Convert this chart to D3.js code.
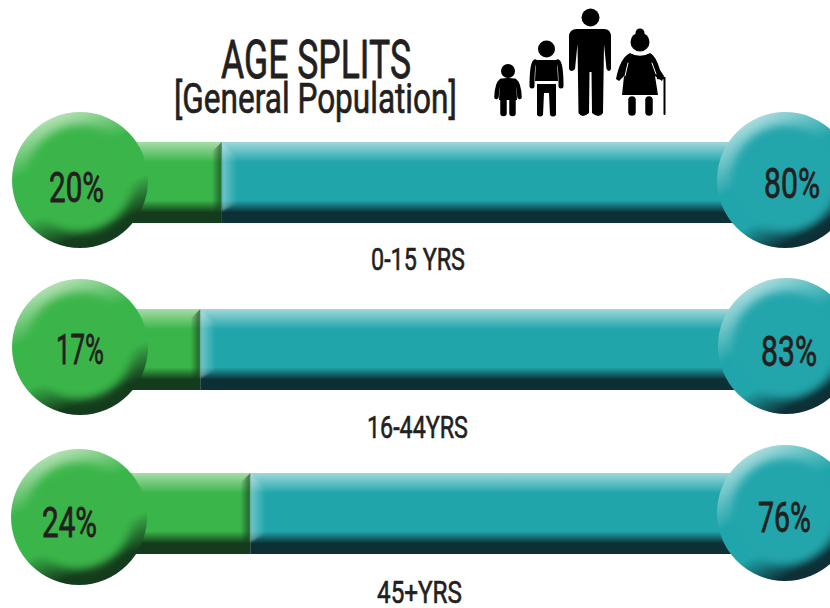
<!DOCTYPE html>
<html><head><meta charset="utf-8">
<style>html,body{margin:0;padding:0;background:#fff;overflow:hidden}svg{display:block}
text{font-family:"Roboto","Liberation Sans",sans-serif;fill:#231f20;stroke:#231f20;stroke-linejoin:round;font-weight:400}</style>
<script src="https://cdn.jsdelivr.net/npm/d3@7/dist/d3.min.js"></script>
</head><body><svg id="c" width="830" height="608"></svg>
<script>
const categories = ["0-15 YRS", "16-44YRS", "45+YRS"];
const greenValues = [20, 17, 24];
const tealValues = [80, 83, 76];
const titleLine1 = "AGE SPLITS";
const titleLine2 = "[General Population]";

const W = 830, H = 608;
const svg = d3.select("#c");
const defs = svg.append("defs");
const x = d3.scaleLinear().domain([0, 100]).range([79, 793]);
const rowTop = d3.scaleOrdinal().domain(categories).range([142, 309, 473]);
const barH = 81, R = 68;
const leftC = d3.scaleOrdinal().domain(categories).range([[80,180],[80,347],[79,517]]);
const rightC = d3.scaleOrdinal().domain(categories).range([[785,180],[786,346],[785,513]]);
const pal = {
  green:{light:"#bfe5bd", mid:"#a6dca8", base:"#3ab54a", dark:"#143c1c"},
  teal:{light:"#b4e0e1", mid:"#a0d8da", base:"#20a5ab", dark:"#0c3036"}
};
function lin(id, attrs, stops){
  const g = defs.append("linearGradient").attr("id", id);
  Object.entries(attrs).forEach(([k,v]) => g.attr(k,v));
  stops.forEach(s => g.append("stop").attr("offset", s[0]).attr("stop-color", s[1]).attr("stop-opacity", s[2] === undefined ? 1 : s[2]));
}
for (const k of ["green","teal"]) {
  const p = pal[k];
  lin("bar-"+k, {x1:0,y1:0,x2:0,y2:1}, [[0,p.mid],[0.25,p.base],[0.72,p.base],[0.87,p.dark],[1,p.dark]]);
}
lin("disc-green", {x1:0.24,y1:0.03,x2:0.62,y2:0.98}, [[0,pal.green.light],[0.34,pal.green.base],[0.66,pal.green.base],[0.9,pal.green.dark],[1,pal.green.dark]]);
lin("disc-teal", {x1:0.16,y1:0.08,x2:0.66,y2:0.98}, [[0,pal.teal.light],[0.4,pal.teal.base],[0.68,pal.teal.base],[0.92,pal.teal.dark],[1,pal.teal.dark]]);
lin("edge-green", {x1:0,y1:0,x2:1,y2:0}, [[0,"#143c1c",0],[1,"#143c1c",0.72]]);
lin("edge-teal", {x1:0,y1:0,x2:1,y2:0}, [[0,"#c4e8e8",0.5],[1,"#c4e8e8",0]]);
const blur = defs.append("filter").attr("id","soft").attr("x","-20%").attr("y","-20%").attr("width","140%").attr("height","140%");
blur.append("feGaussianBlur").attr("stdDeviation",4.5);
const blurS = defs.append("filter").attr("id","softS").attr("x","-40%").attr("y","-20%").attr("width","180%").attr("height","140%");
blurS.append("feGaussianBlur").attr("stdDeviation",1.2);

// Text is measured, then squeezed horizontally to the narrow width the reference lettering has.
function fitText(str, x0, x1, baseline, size, sw){
  const t = svg.append("text").attr("font-size",size).attr("stroke-width",sw).text(str);
  const w = t.node().getComputedTextLength();
  t.attr("transform",`translate(${x0},${baseline}) scale(${(x1-x0)/w},1)`);
}
function disc(cx, cy, k){
  const p = pal[k];
  const g = svg.append("g").attr("class","disc");
  g.append("circle").attr("cx",cx).attr("cy",cy).attr("r",R).attr("fill",`url(#disc-${k})`);
  g.append("circle").attr("cx",cx).attr("cy",cy-1).attr("r",R-15).attr("fill",p.base).attr("filter","url(#soft)");
}

const bars = svg.append("g");
const clipRow = (id, y0, split) => defs.append("clipPath").attr("id",id).append("rect").attr("x",split-30).attr("y",y0).attr("width",60).attr("height",barH);
categories.forEach((c,i) => {
  const y0 = rowTop(c), split = x(greenValues[i]);
  clipRow("cl"+i, y0, split);
  bars.append("rect").attr("x",x(0)).attr("y",y0).attr("width",split-x(0)).attr("height",barH).attr("fill","url(#bar-green)");
  bars.append("rect").attr("x",split).attr("y",y0).attr("width",x(100)-split).attr("height",barH).attr("fill","url(#bar-teal)");
  const g = bars.append("g").attr("clip-path",`url(#cl${i})`);
  g.append("path").attr("d",`M${split},${y0} L${split},${y0+barH} L${split-10},${y0+barH-16} L${split-10},${y0+10} Z`).attr("fill","url(#edge-green)");
  g.append("path").attr("d",`M${split},${y0} L${split},${y0+barH-12} L${split+15},${y0+barH-20} L${split+15},${y0+16} Z`).attr("fill","url(#edge-teal)").attr("filter","url(#softS)");
});
const valueBoxes = [[[49,104,202],[764,820,198]],[[56,104,364],[761,817,366]],[[42,97,537],[758,811,532]]];
const labelBoxes = [[371,465,270],[367,468,438],[377,462,603]];
categories.forEach((c,i) => {
  disc(...leftC(c),"green");
  disc(...rightC(c),"teal");
  const [a,b] = valueBoxes[i];
  fitText(greenValues[i]+"%",a[0],a[1],a[2],42,0.8);
  fitText(tealValues[i]+"%",b[0],b[1],b[2],42,0.8);
  fitText(c,labelBoxes[i][0],labelBoxes[i][1],labelBoxes[i][2],31,0.6);
});
fitText(titleLine1,221,411,78,53,0.8);
fitText(titleLine2,174,457,113,42,0.7);

// pictogram of the four figures
const ink = "#000";
const fig = svg.append("g").attr("fill",ink).attr("stroke",ink).attr("stroke-linecap","round").attr("stroke-linejoin","round");
function head(cx,cy,r){ fig.append("circle").attr("cx",cx).attr("cy",cy).attr("r",r).attr("stroke","none"); }
function limb(d,w,col){ fig.append("path").attr("d",d).attr("fill","none").attr("stroke-width",w).attr("stroke",col||ink); }
function solid(d){ fig.append("path").attr("d",d).attr("stroke","none"); }
// small child
head(508,71,7);
solid("M500,79 Q508,77 516,79 L517,100 L499,100 Z");
limb("M501,81 Q497,84 496.5,97",4.5); limb("M515,81 Q519,84 519.5,97",4.5);
limb("M503.5,98 L503.5,113",6.5); limb("M512.5,98 L512.5,113",6.5);
// older child
head(546.5,49,8.5);
solid("M536,60 L557,60 L558,81 L535,81 Z");
limb("M535,62 Q532,64 532,86",5); limb("M558,62 Q561,64 561,86",5);
solid("M537,84 L556,84 L556,115 Q553,118 550,115 L549,93 L544,93 L543,115 Q540,118 537,115 Z");
// adult
head(590.5,17.5,9);
solid("M577,29 L604,29 Q611,29 611,37 L611,69 Q609,73 606.5,69 L604,44 L603,113 Q599,119 592,113 L591.5,72 L589.5,72 L589,113 Q582,119 578.5,113 L577.5,44 L575,69 Q571,73 569,69 L569,37 Q569,29 577,29 Z");
// grandmother
head(640,33,4.5);
solid("M630,53 Q640,57 650,53 Q656,56 660,70 L664,76 L662,81 L655,76 L658,95 L622,95 L624,76 L619,81 L616,79 Q620,58 630,53 Z");
limb("M630,52 Q640,58 650,52",1.6,"#fff");
head(640,42,9.5);
limb("M628,63 L625,76",1,"#fff");
limb("M652,63 L656,74",1,"#fff");
limb("M632,100 L632,112",7.5); limb("M649,100 L649,112",7.5);
limb("M664.5,78 L664.5,114",2);
limb("M658,78 L664,78",2.5);
</script></body></html>
